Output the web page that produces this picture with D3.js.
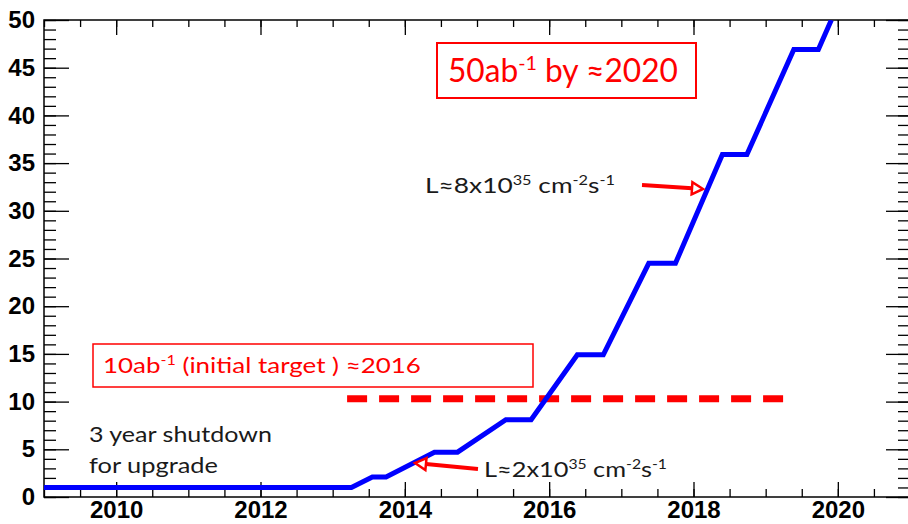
<!DOCTYPE html>
<html>
<head>
<meta charset="utf-8">
<script src="https://cdn.jsdelivr.net/npm/d3@7"></script>
<style>
  body { margin: 0; background: #fff; }
  svg { display: block; }
  .tick-lbl text { font-family: "Liberation Sans", Arial, sans-serif; font-weight: bold; fill: #000; }
  .note { font-family: Lato, "Open Sans", sans-serif; }
</style>
</head>
<body>
<div id="chart"></div>
<script>
// 积分亮度随时间 (ab^-1)
const years = [2009, 2013.26, 2013.55, 2013.74, 2014.41, 2014.73, 2015.40, 2015.75,
               2016.39, 2016.75, 2017.38, 2017.75, 2018.40, 2018.74, 2019.39, 2019.73, 2019.91];
const lumi  = [1.0, 1.0, 2.1, 2.1, 4.7, 4.7, 8.1, 8.1,
               14.9, 14.9, 24.5, 24.5, 35.9, 35.9, 46.9, 46.9, 50];

// 初始目标虚线
const targetYears = [2013.2, 2019.25];
const targetValue = 10.3;

// 刻度
const xMajor = [2010, 2012, 2014, 2016, 2018, 2020];
const xMinor = d3.range(2009, 2021.01, 0.5);
const yMajor = [0, 5, 10, 15, 20, 25, 30, 35, 40, 45, 50];
const yMinor = d3.range(0, 50.01, 1);

const width = 908, height = 524;
const svg = d3.select("#chart").append("svg")
    .attr("width", width).attr("height", height);

const x = d3.scaleLinear().domain([2009, 2021]).range([44, 910]);
const y = d3.scaleLinear().domain([0, 50]).range([497, 20]);

//坐标轴的刻度，全部朝内
function drawTicks(axis, transform, size) {
    const g = svg.append("g").attr("transform", transform)
        .call(axis.tickSize(size).tickFormat(""));
    g.select(".domain").remove();
    g.selectAll("line").attr("stroke", "#000").attr("stroke-width", 1.3);
}
drawTicks(d3.axisRight(y).tickValues(yMinor), `translate(${x(2009)},0)`, 12);
drawTicks(d3.axisRight(y).tickValues(yMajor), `translate(${x(2009)},0)`, 25);
drawTicks(d3.axisLeft(y).tickValues(yMinor), `translate(${x(2021)},0)`, 12);
drawTicks(d3.axisLeft(y).tickValues(yMajor), `translate(${x(2021)},0)`, 24);
drawTicks(d3.axisTop(x).tickValues(xMinor), `translate(0,${y(0)})`, 8);
drawTicks(d3.axisTop(x).tickValues(xMajor), `translate(0,${y(0)})`, 15);
drawTicks(d3.axisBottom(x).tickValues(xMinor), `translate(0,${y(50)})`, 7);
drawTicks(d3.axisBottom(x).tickValues(xMajor), `translate(0,${y(50)})`, 15);

//边框
svg.append("rect")
    .attr("x", x(2009)).attr("y", y(50))
    .attr("width", x(2021) - x(2009)).attr("height", y(0) - y(50))
    .attr("fill", "none").attr("stroke", "#000").attr("stroke-width", 1.5);

//刻度标签
const yLbl = svg.append("g").attr("class", "tick-lbl")
    .attr("transform", `translate(${x(2009)},0)`)
    .call(d3.axisLeft(y).tickValues(yMajor).tickSize(0).tickPadding(9));
yLbl.select(".domain").remove();
yLbl.selectAll("text").style("font-size", "24px");

const xLbl = svg.append("g").attr("class", "tick-lbl")
    .attr("transform", `translate(0,${y(0)})`)
    .call(d3.axisBottom(x).tickValues(xMajor).tickSize(0).tickPadding(4).tickFormat(d3.format("d")));
xLbl.select(".domain").remove();
xLbl.selectAll("text").style("font-size", "24px");

//裁剪区域
svg.append("clipPath").attr("id", "plot")
    .append("rect")
    .attr("x", x(2009)).attr("y", y(50))
    .attr("width", x(2021) - x(2009)).attr("height", y(0) - y(50));

//初始目标虚线
svg.append("line")
    .attr("x1", x(targetYears[0])).attr("x2", x(targetYears[1]))
    .attr("y1", y(targetValue)).attr("y2", y(targetValue))
    .attr("stroke", "#ff0000").attr("stroke-width", 7)
    .attr("stroke-dasharray", "20 12");

//亮度曲线
const line = d3.line().x(d => x(d[0])).y(d => y(d[1]));
svg.append("path")
    .datum(years.map((yr, i) => [yr, lumi[i]]))
    .attr("clip-path", "url(#plot)")
    .attr("d", line)
    .attr("fill", "none")
    .attr("stroke", "#0000ff")
    .attr("stroke-width", 5)
    .attr("stroke-linejoin", "miter");

//带上标的文本，横向拉伸到目标宽度
function richText(parts, xPos, yPos, size, color, targetWidth) {
    const t = svg.append("text").attr("class", "note")
        .attr("x", 0).attr("y", 0)
        .style("font-size", size + "px").attr("fill", color);
    let shifted = 0;
    parts.forEach(p => {
        const sup = p.sup === true;
        const dy = sup ? -size * 0.38 - shifted : -shifted;
        t.append("tspan").text(p.t)
            .attr("dy", dy)
            .style("font-size", sup ? (size * 0.62) + "px" : size + "px");
        shifted = sup ? -size * 0.38 : 0;
    });
    const w = t.node().getBBox().width;
    const s = targetWidth ? targetWidth / w : 1;
    t.attr("transform", `translate(${xPos},${yPos}) scale(${s},1)`);
    return t;
}

//红色方框注释
svg.append("rect").attr("x", 437).attr("y", 43).attr("width", 259).attr("height", 55)
    .attr("fill", "none").attr("stroke", "#ff0000").attr("stroke-width", 2);
richText([{t: "50ab"}, {t: "-1", sup: true}, {t: " by \u22482020"}], 448, 82, 32, "#ff0000", 230);

svg.append("rect").attr("x", 93).attr("y", 344).attr("width", 440).attr("height", 43)
    .attr("fill", "none").attr("stroke", "#ff0000").attr("stroke-width", 1.5);
richText([{t: "10ab"}, {t: "-1", sup: true}, {t: " (initial target ) \u22482016"}], 103, 373, 22, "#ff0000", 318);

//黑色文本注释
richText([{t: "L\u22488x10"}, {t: "35", sup: true}, {t: " cm"}, {t: "-2", sup: true}, {t: "s"}, {t: "-1", sup: true}], 425, 193, 22, "#1a1a1a", 190);
richText([{t: "L\u22482x10"}, {t: "35", sup: true}, {t: " cm"}, {t: "-2", sup: true}, {t: "s"}, {t: "-1", sup: true}], 484, 477, 22, "#1a1a1a", 183);
richText([{t: "3 year shutdown"}], 89, 442, 21, "#1a1a1a", 183);
richText([{t: "for upgrade"}], 89, 473, 21, "#1a1a1a", 129);

//红色箭头
function arrow(x1, y1, x2, y2) {
    const ang = Math.atan2(y2 - y1, x2 - x1);
    const len = 11, half = 6;
    const bx = x2 - len * Math.cos(ang), by = y2 - len * Math.sin(ang);
    svg.append("line")
        .attr("x1", x1).attr("y1", y1).attr("x2", bx).attr("y2", by)
        .attr("stroke", "#ff0000").attr("stroke-width", 4);
    const px = -Math.sin(ang) * half, py = Math.cos(ang) * half;
    svg.append("path")
        .attr("d", `M${bx + px},${by + py}L${x2},${y2}L${bx - px},${by - py}Z`)
        .attr("fill", "#fff").attr("stroke", "#ff0000").attr("stroke-width", 2.5)
        .attr("stroke-linejoin", "miter");
}
arrow(642, 185, 703, 189);
arrow(478, 469, 415, 463);
</script>
</body>
</html>
